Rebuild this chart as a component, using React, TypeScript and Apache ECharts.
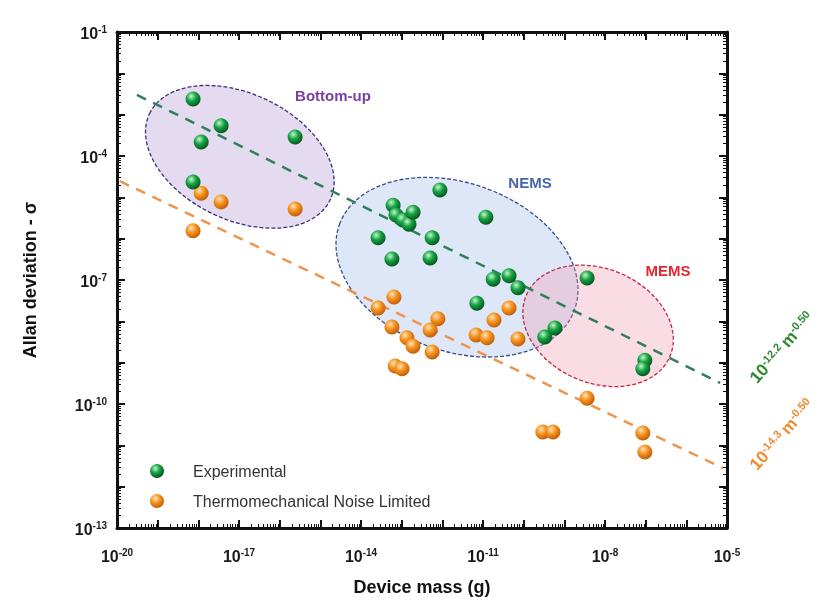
import { useEffect, useRef } from 'react';
import * as echarts from 'echarts';

const FONT = '"Liberation Sans", Arial, Helvetica, sans-serif';

// Axis ranges (log10 exponents)
const xRange = [-20, -5];
const yRange = [-13, -1];

// Experimental (green) points: log10 of mass (g) and log10 of Allan deviation
const expMassLog = [
  -18.13, -17.44, -17.93, -15.62, -18.13,
  -12.06, -13.21, -13.14, -12.97, -12.82, -12.72, -10.93, -13.58, -12.25, -13.24, -12.3,
  -10.75, -10.36, -10.14, -11.15, -9.23, -9.48,
  -8.44, -7.02, -7.07,
];
const expSigmaLog = [
  -2.62, -3.27, -3.66, -3.54, -4.63,
  -4.82, -5.19, -5.43, -5.55, -5.65, -5.36, -5.48, -5.98, -5.98, -6.49, -6.47,
  -6.98, -6.9, -7.19, -7.56, -8.16, -8.38,
  -6.95, -8.94, -9.15,
];

// Thermomechanical noise limited (orange) points
const thermoMassLog = [
  -17.93, -17.44, -15.62, -18.13,
  -13.19, -13.58, -13.24, -12.87, -12.72, -12.11, -12.3, -12.25, -13.16, -12.99,
  -11.17, -10.9, -10.73, -10.36, -10.14,
  -8.44, -9.53, -9.28, -7.07, -7.02,
];
const thermoSigmaLog = [
  -4.9, -5.11, -5.28, -5.81,
  -7.41, -7.68, -8.14, -8.4, -8.6, -7.94, -8.21, -8.74, -9.08, -9.15,
  -8.33, -8.4, -7.97, -7.68, -8.43,
  -9.86, -10.68, -10.68, -10.7, -11.16,
];

// Fit lines (end points)
const fitGreenMassLog = [-19.51, -5.17];
const fitGreenSigmaLog = [-2.52, -9.49];
const fitOrangeMassLog = [-19.93, -5.1];
const fitOrangeSigmaLog = [-4.61, -11.55];

// Region ellipses: names and centres (log10 units)
const regionNames = ['Bottom-up', 'NEMS', 'MEMS'];
const regionCenterMassLog = [-16.98, -11.64, -8.17];
const regionCenterSigmaLog = [-4.02, -6.69, -8.11];

// Region ellipse geometry / style (pixels, degrees)
const REGION_STYLE = [
  { rx: 100, ry: 63, angle: 25.5, fill: 'rgba(186,160,215,0.38)', stroke: '#3d2f7c' },
  { rx: 125, ry: 84, angle: 20, fill: 'rgba(165,192,235,0.38)', stroke: '#3a4d8e' },
  { rx: 78, ry: 57, angle: 23, fill: 'rgba(240,150,172,0.32)', stroke: '#c8283e' },
];

const p10 = (e: number) => Math.pow(10, e);
const pairs = (xs: number[], ys: number[]) => xs.map((x, i) => [p10(x), p10(ys[i])]);

const sphere = (light: string, mid: string, dark: string) =>
  new echarts.graphic.RadialGradient(0.38, 0.32, 0.72, [
    { offset: 0, color: light },
    { offset: 0.45, color: mid },
    { offset: 1, color: dark },
  ]);

const richTick = {
  b: { fontSize: 16, fontWeight: 'bold', color: '#1a1a1a', fontFamily: FONT, lineHeight: 18, verticalAlign: 'bottom' },
  s: { fontSize: 10, fontWeight: 'bold', color: '#1a1a1a', fontFamily: FONT, lineHeight: 12, verticalAlign: 'bottom', padding: [0, 0, 7, 0] },
};

const expOf = (v: number) => Math.round(Math.log10(v));

function baseAxis(min: number, max: number) {
  return {
    type: 'log' as const,
    logBase: 10,
    min: p10(min),
    max: p10(max),
    interval: 1,
    splitNumber: max - min,
    axisLine: { show: true, onZero: false, lineStyle: { color: '#111', width: 3 } },
    axisTick: { show: true, inside: true, length: 8, lineStyle: { color: '#111', width: 2 } },
    minorTick: { show: true, splitNumber: 9, length: 4, lineStyle: { color: '#111', width: 1 } },
    splitLine: { show: false },
    minorSplitLine: { show: false },
  };
}

const fitRich = (color: string) => ({
  b: { fontSize: 17, fontWeight: 'bold', fill: color, fontFamily: FONT, lineHeight: 19, verticalAlign: 'bottom' },
  s: { fontSize: 11, fontWeight: 'bold', fill: color, fontFamily: FONT, lineHeight: 13, verticalAlign: 'bottom', padding: [0, 0, 7, 0] },
});

export default function App() {
  const ref = useRef<HTMLDivElement>(null);

  useEffect(() => {
    const chart = echarts.init(ref.current!, null, { renderer: 'svg' });
    const greenSphere = sphere('#c2f7cc', '#17a343', '#044f1a');
    const orangeSphere = sphere('#ffe3b8', '#f5931f', '#bd5806');

    const option = {
      animation: false,
      textStyle: { fontFamily: FONT },
      grid: { left: 117, right: 97, top: 32, bottom: 78, containLabel: false },
      legend: {
        orient: 'vertical',
        left: 145,
        top: 458,
        itemWidth: 14,
        itemHeight: 14,
        itemGap: 14,
        icon: 'circle',
        data: ['Experimental', 'Thermomechanical Noise Limited'],
        textStyle: { fontSize: 16, color: '#333', fontFamily: FONT, padding: [0, 0, 0, 24] },
      },
      xAxis: [
        {
          ...baseAxis(xRange[0], xRange[1]),
          position: 'bottom',
          name: 'Device mass (g)',
          nameLocation: 'middle',
          nameGap: 50,
          nameTextStyle: { fontSize: 18, fontWeight: 'bold', color: '#111', fontFamily: FONT },
          axisLabel: {
            show: true,
            margin: 18,
            formatter: (v: number) => {
              const e = expOf(v);
              return (e - xRange[0]) % 3 === 0 ? `{b|10}{s|${e}}` : '';
            },
            rich: richTick,
          },
        },
        {
          ...baseAxis(xRange[0], xRange[1]),
          position: 'top',
          axisLabel: { show: false },
        },
      ],
      yAxis: [
        {
          ...baseAxis(yRange[0], yRange[1]),
          position: 'left',
          name: 'Allan deviation - σ',
          nameLocation: 'middle',
          nameGap: 78,
          nameTextStyle: { fontSize: 18, fontWeight: 'bold', color: '#111', fontFamily: FONT },
          axisLabel: {
            show: true,
            margin: 10,
            formatter: (v: number) => {
              const e = expOf(v);
              return (e - yRange[0]) % 3 === 0 ? `{b|10}{s|${e}}` : '';
            },
            rich: richTick,
          },
        },
        {
          ...baseAxis(yRange[0], yRange[1]),
          position: 'right',
          axisLabel: { show: false },
        },
      ],
      series: [
        {
          type: 'custom',
          name: 'regions',
          silent: true,
          z: 1,
          data: regionNames.map((_, i) => [p10(regionCenterMassLog[i]), p10(regionCenterSigmaLog[i])]),
          renderItem: (params: any, api: any) => {
            const st = REGION_STYLE[params.dataIndex];
            const c = api.coord([api.value(0), api.value(1)]);
            return {
              type: 'group',
              x: c[0],
              y: c[1],
              rotation: (-st.angle * Math.PI) / 180,
              children: [
                {
                  type: 'ellipse',
                  shape: { cx: 0, cy: 0, rx: st.rx, ry: st.ry },
                  style: { fill: st.fill, stroke: st.stroke, lineWidth: 1.3, lineDash: [4, 2] },
                },
              ],
            };
          },
        },
        {
          type: 'line',
          name: 'fitGreen',
          z: 2,
          symbol: 'none',
          silent: true,
          data: pairs(fitGreenMassLog, fitGreenSigmaLog),
          lineStyle: { color: '#2f7f5c', width: 2.5, type: [10, 8] },
        },
        {
          type: 'line',
          name: 'fitOrange',
          z: 2,
          symbol: 'none',
          silent: true,
          data: pairs(fitOrangeMassLog, fitOrangeSigmaLog),
          lineStyle: { color: '#f0944c', width: 2.5, type: [10, 8] },
        },
        {
          type: 'scatter',
          name: 'Thermomechanical Noise Limited',
          z: 3,
          symbolSize: 15,
          data: pairs(thermoMassLog, thermoSigmaLog),
          itemStyle: { color: orangeSphere, opacity: 1 },
        },
        {
          type: 'scatter',
          name: 'Experimental',
          z: 4,
          symbolSize: 15,
          data: pairs(expMassLog, expSigmaLog),
          itemStyle: { color: greenSphere, opacity: 1 },
        },
      ],
      graphic: [
        {
          type: 'text', x: 333, y: 95, z: 10,
          style: { text: 'Bottom-up', fontSize: 15, fontWeight: 'bold', fill: '#7b3fa6', fontFamily: FONT, align: 'center', verticalAlign: 'middle' },
        },
        {
          type: 'text', x: 530, y: 182, z: 10,
          style: { text: 'NEMS', fontSize: 15, fontWeight: 'bold', fill: '#4766ae', fontFamily: FONT, align: 'center', verticalAlign: 'middle' },
        },
        {
          type: 'text', x: 668, y: 270, z: 10,
          style: { text: 'MEMS', fontSize: 15, fontWeight: 'bold', fill: '#e32832', fontFamily: FONT, align: 'center', verticalAlign: 'middle' },
        },
        {
          type: 'text', x: 781, y: 347, z: 10,
          rotation: (49 * Math.PI) / 180,
          style: {
            text: '{b|10}{s|-12.2} {b|m}{s|-0.50}',
            align: 'center',
            verticalAlign: 'middle',
            rich: fitRich('#2e8a2e'),
          },
        },
        {
          type: 'text', x: 781, y: 434, z: 10,
          rotation: (49 * Math.PI) / 180,
          style: {
            text: '{b|10}{s|-14.3} {b|m}{s|-0.50}',
            align: 'center',
            verticalAlign: 'middle',
            rich: fitRich('#f08a30'),
          },
        },
      ],
    };

    chart.setOption(option as any);
    return () => chart.dispose();
  }, []);

  return <div ref={ref} style={{ position: 'fixed', left: 0, top: 0, width: 824, height: 606 }} />;
}
